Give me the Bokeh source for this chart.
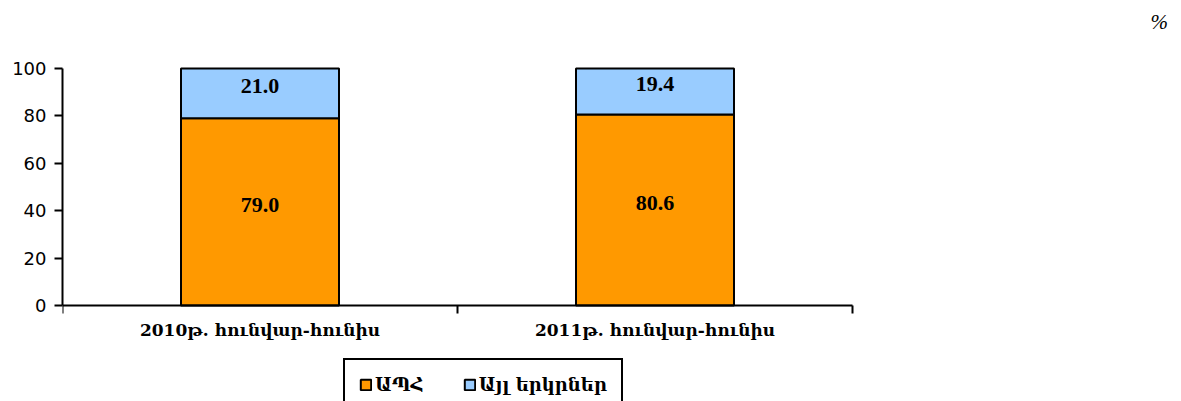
from bokeh.plotting import figure
from bokeh.models import Range1d, FixedTicker, Legend, LegendItem, ColumnDataSource, Label
from bokeh.core.properties import value
from bokeh.embed import file_html
from bokeh.resources import INLINE

categories = ["2010թ. հունվար-հունիս", "2011թ. հունվար-հունիս"]
series_names = ["ԱՊՀ", "Այլ երկրներ"]
cis = [79.0, 80.6]
other = [21.0, 19.4]
colors = ["#FF9900", "#99CCFF"]
y_ticks = [0, 20, 40, 60, 80, 100]
unit_text = "%"

# layout (pixels)
W, H = 1181, 401
LEFT, AX_RIGHT, Y100, Y0 = 62, 852, 68, 305
n = len(categories)
px_per_x = (AX_RIGHT - LEFT) / n
px_per_y = (Y0 - Y100) / 100.0

xc = [i + 0.5 for i in range(n)]
src = ColumnDataSource(dict(
    x=xc, cis=cis, other=other,
    cis_mid=[v / 2 for v in cis],
    other_mid=[c + o / 2 for c, o in zip(cis, other)],
    cis_lbl=[f"{v:.1f}" for v in cis],
    other_lbl=[f"{v:.1f}" for v in other],
))

p = figure(frame_width=W - LEFT, frame_height=H,
           x_range=Range1d(0, (W - LEFT) / px_per_x),
           y_range=Range1d(-(H - Y0) / px_per_y, 100 + Y100 / px_per_y),
           output_backend="svg", toolbar_location=None,
           min_border_left=LEFT, min_border_right=0, min_border_top=0, min_border_bottom=0)
p.outline_line_color = None
p.xgrid.visible = False
p.ygrid.visible = False

rs = p.vbar_stack(["cis", "other"], x="x", width=0.4, source=src, color=colors,
                  line_color="black", line_width=2)

for ycol, lcol in [("cis_mid", "cis_lbl"), ("other_mid", "other_lbl")]:
    p.text(x="x", y=ycol, text=lcol, source=src, text_align="center", text_baseline="middle",
           text_font=value("Liberation Serif"), text_font_style="bold", text_font_size="22px",
           text_color="black", y_offset=-7)

# y axis
p.yaxis.ticker = FixedTicker(ticks=y_ticks)
p.yaxis.bounds = (0, 100)
p.yaxis.axis_line_width = 2
p.yaxis.axis_line_color = "black"
p.yaxis.major_tick_line_width = 2
p.yaxis.major_tick_out = 8
p.yaxis.major_tick_in = 0
p.yaxis.minor_tick_line_color = None
p.yaxis.major_label_text_font = "DejaVu Sans"
p.yaxis.major_label_text_font_size = "18px"
p.yaxis.major_label_text_color = "black"
p.yaxis.major_label_standoff = 8

# x axis at y=0: labels at category centres, ticks at boundaries
p.xaxis.fixed_location = 0
p.xaxis.bounds = (0, n)
p.xaxis.ticker = FixedTicker(ticks=xc, minor_ticks=list(range(n + 1)))
p.xaxis.major_label_overrides = {x: c for x, c in zip(xc, categories)}
p.xaxis.axis_line_width = 2
p.xaxis.axis_line_color = "black"
p.xaxis.major_tick_line_color = None
p.xaxis.major_tick_out = 0
p.xaxis.major_tick_in = 0
p.xaxis.minor_tick_line_width = 2
p.xaxis.minor_tick_line_color = "black"
p.xaxis.minor_tick_out = 8
p.xaxis.minor_tick_in = 0
p.xaxis.major_label_text_font = "DejaVu Serif"
p.xaxis.major_label_text_font_style = "bold"
p.xaxis.major_label_text_font_size = "17px"
p.xaxis.major_label_text_color = "black"
p.xaxis.major_label_standoff = 6

legend = Legend(items=[LegendItem(label=nm, renderers=[r]) for nm, r in zip(series_names, rs)],
                orientation="horizontal", location=(281, -10),
                border_line_color="black", border_line_width=2, border_line_alpha=1.0,
                label_text_font="DejaVu Serif", label_text_font_style="bold",
                label_text_font_size="18px", label_text_color="black",
                glyph_width=13, glyph_height=13,
                label_standoff=3, spacing=39, padding=14, margin=0)
p.add_layout(legend)

p.add_layout(Label(x=1150 - LEFT, y=H - 21, x_units="screen", y_units="screen", text=unit_text,
                   text_font="Liberation Serif", text_font_style="italic", text_font_size="21px",
                   text_color="black", text_baseline="alphabetic"))

open("out.html", "w").write(file_html(p, INLINE))
